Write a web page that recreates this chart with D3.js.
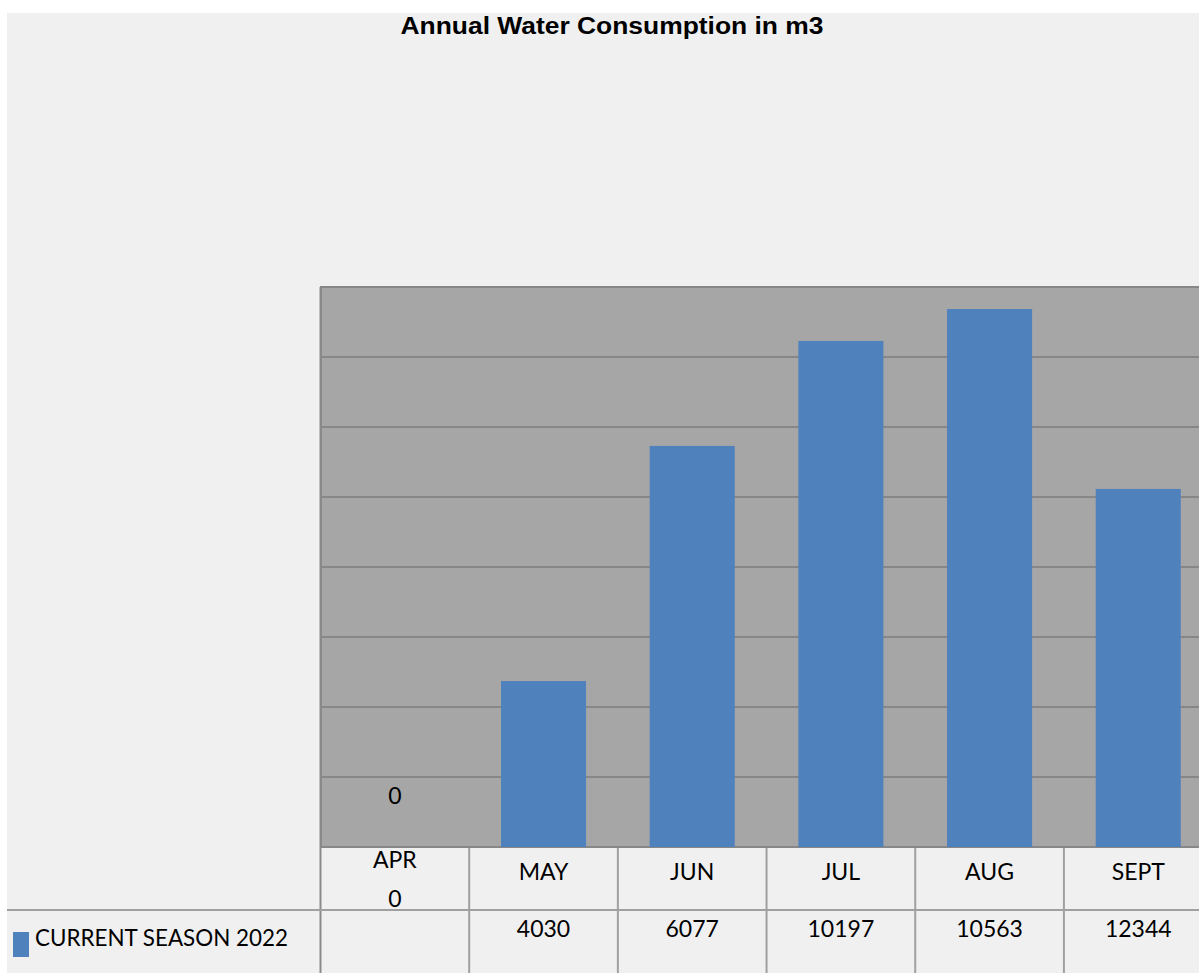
<!DOCTYPE html>
<html>
<head>
<meta charset="utf-8">
<script src="https://cdn.jsdelivr.net/npm/d3@7"></script>
<style>
  html, body { margin: 0; padding: 0; background: #ffffff; overflow: hidden; }
  svg { display: block; }
</style>
</head>
<body>
<svg id="chart" width="1199" height="973"></svg>
<script>
// Monthly consumption for the season (m3)
const months = ["APR", "MAY", "JUN", "JUL", "AUG", "SEPT"];
const currentSeason = [0, 4030, 9740, 12290, 13065, 8695];
// Values printed in the data table row
const tableValues = ["", "4030", "6077", "10197", "10563", "12344"];
const seriesName = "CURRENT SEASON 2022";
const gridTicks = [0, 1700, 3400, 5100, 6800, 8500, 10200, 11900, 13600];

const W = 1199, H = 973;
const svg = d3.select("#chart");
const font = "Lato, 'Open Sans', sans-serif";
const fs = 23;

// page background
svg.append("rect").attr("x", 0).attr("y", 0).attr("width", W).attr("height", H).attr("fill", "#ffffff");
svg.append("rect").attr("x", 7).attr("y", 13).attr("width", W - 7).attr("height", H - 13).attr("fill", "#f0f0f0");

// title
svg.append("text")
  .attr("x", 612).attr("y", 34)
  .attr("text-anchor", "middle")
  .attr("font-family", "'Liberation Sans', Arial, sans-serif")
  .attr("font-weight", "bold")
  .attr("font-size", 23)
  .attr("fill", "#000")
  .attr("textLength", 423).attr("lengthAdjust", "spacingAndGlyphs")
  .text("Annual Water Consumption in m3");

// plot geometry
const plot = { left: 320, top: 287, bottom: 848 };
const step = 148.6;
const plotRight = plot.left + 1 + step * months.length;

const x = d3.scaleBand()
  .domain(months)
  .range([plot.left + 0.5, plotRight])
  .paddingInner(0.428)
  .paddingOuter(0.214);

const y = d3.scaleLinear()
  .domain([0, 13600])
  .range([847, plot.top]);

// plot area
svg.append("rect")
  .attr("x", plot.left).attr("y", plot.top)
  .attr("width", plotRight - plot.left).attr("height", plot.bottom - plot.top)
  .attr("fill", "#a6a6a6");

// horizontal gridlines
svg.append("g").selectAll("line")
  .data(gridTicks)
  .join("line")
  .attr("x1", plot.left).attr("x2", plotRight)
  .attr("y1", d => y(d)).attr("y2", d => y(d))
  .attr("stroke", "#878787").attr("stroke-width", 2);

// plot left border
svg.append("line")
  .attr("x1", plot.left + 1).attr("x2", plot.left + 1)
  .attr("y1", plot.top - 1).attr("y2", plot.bottom)
  .attr("stroke", "#878787").attr("stroke-width", 2);

// bars
svg.append("g").selectAll("rect")
  .data(months.map((m, i) => ({ m, v: currentSeason[i] })).filter(d => d.v > 0))
  .join("rect")
  .attr("x", d => x(d.m))
  .attr("y", d => y(d.v))
  .attr("width", x.bandwidth())
  .attr("height", d => y(0) - y(d.v))
  .attr("fill", "#4f81bd");

// zero-value label
svg.append("g").selectAll("text")
  .data(months.map((m, i) => ({ m, v: currentSeason[i] })).filter(d => d.v === 0))
  .join("text")
  .attr("x", d => x(d.m) + x.bandwidth() / 2)
  .attr("y", 804)
  .attr("text-anchor", "middle")
  .attr("font-family", font).attr("font-size", fs).attr("fill", "#000")
  .text(d => d.v);

// data table grid
const tableColor = "#a0a0a0";
const colEdge = m => x(m) - (x.step() * x.paddingInner()) / 2;
const tbl = svg.append("g");
months.forEach(m => {
  tbl.append("line")
    .attr("x1", colEdge(m)).attr("x2", colEdge(m))
    .attr("y1", m === months[0] ? plot.top : plot.bottom).attr("y2", H)
    .attr("stroke", m === months[0] ? "#8a8a8a" : tableColor)
    .attr("stroke-width", 2);
});
tbl.append("line")
  .attr("x1", 7).attr("x2", W)
  .attr("y1", 910).attr("y2", 910)
  .attr("stroke", tableColor).attr("stroke-width", 2);

// header row: month names (zero value shown under the first month)
const cellText = (cx, cy, t) => tbl.append("text")
  .attr("x", cx).attr("y", cy)
  .attr("text-anchor", "middle").attr("font-family", font).attr("font-size", fs).attr("fill", "#000")
  .text(t);

months.forEach((m, i) => {
  const cx = x(m) + x.bandwidth() / 2;
  if (currentSeason[i] === 0) {
    cellText(cx, 868, m);
    cellText(cx, 907, currentSeason[i]);
  } else {
    cellText(cx, 880, m);
  }
  // data row
  cellText(cx, 937, tableValues[i]);
});

// legend key
svg.append("rect").attr("x", 13).attr("y", 932).attr("width", 16).attr("height", 25).attr("fill", "#4f81bd");
svg.append("text").attr("x", 35).attr("y", 946)
  .attr("font-family", font).attr("font-size", fs).attr("fill", "#000")
  .attr("textLength", 253).attr("lengthAdjust", "spacingAndGlyphs")
  .text(seriesName);
</script>
</body>
</html>
